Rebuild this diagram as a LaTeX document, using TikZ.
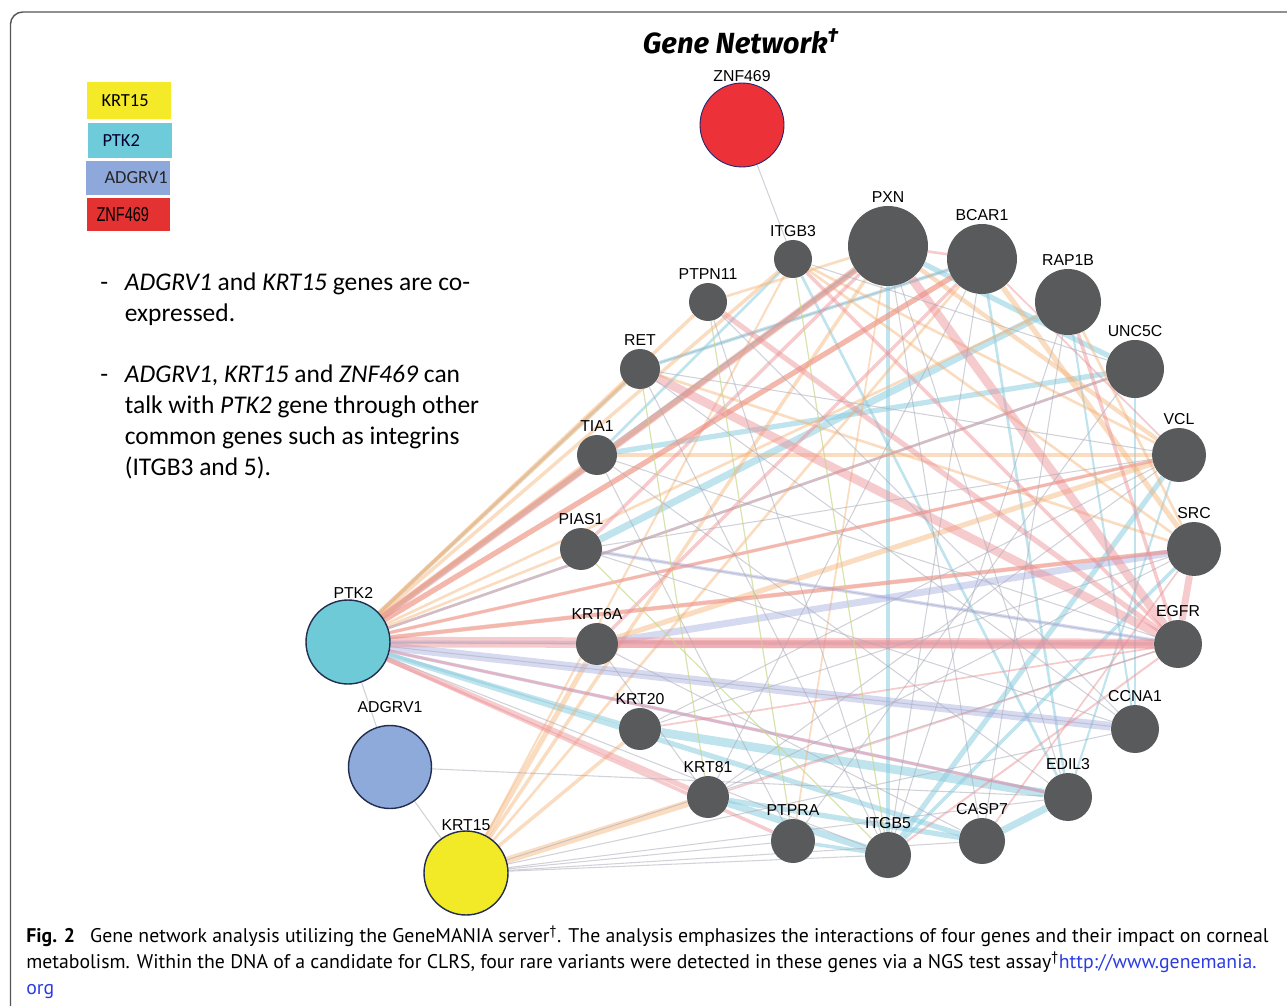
\documentclass[tikz,border=0pt]{standalone}
\usepackage{fontspec}
\setmainfont{Liberation Sans}
\newfontfamily\calfont{Carlito}
\newfontfamily\capfont{PT Sans}
\newfontfamily\titfont{Fira Sans}
\usepackage{graphicx}
\usepackage{xcolor}
\usepackage{tikz}
\usetikzlibrary{positioning, backgrounds}

\definecolor{genegray}{RGB}{88,90,91}
\definecolor{seedline}{RGB}{35,45,80}
\definecolor{ptkcyan}{RGB}{110,202,214}
\definecolor{adgblue}{RGB}{142,170,219}
\definecolor{krtyellow}{RGB}{242,234,38}
\definecolor{znfred}{RGB}{237,49,56}
\definecolor{legyellow}{RGB}{244,234,40}
\definecolor{legcyan}{RGB}{110,204,218}
\definecolor{legblue}{RGB}{143,168,219}
\definecolor{legred}{RGB}{228,50,50}
\definecolor{edgepink}{RGB}{236,140,145}
\definecolor{edgeblue}{RGB}{140,205,222}
\definecolor{edgeorange}{RGB}{244,178,118}
\definecolor{edgelav}{RGB}{165,172,225}
\definecolor{edgegray}{RGB}{170,172,185}
\definecolor{edgegreen}{RGB}{200,215,140}
\definecolor{framecol}{RGB}{85,85,85}
\definecolor{linkblue}{RGB}{45,60,225}

\begin{document}
\begin{tikzpicture}[
  x=0.02cm, y=-0.02cm,
  gene/.style={circle, fill=genegray, inner sep=0pt, minimum size=#1},
  seed/.style={circle, draw=seedline, line width=0.8pt, inner sep=0pt, minimum size=#1},
  lbl/.style={font=\fontsize{9}{10}\selectfont, inner sep=1.5pt},
  legbox/.style={minimum height=#1, text width=1.68cm, inner xsep=0pt, inner ysep=0pt, align=left, font=\calfont\fontsize{10.5}{11}\selectfont},
  bullet/.style={font=\calfont\fontsize{14.5}{17.6}\selectfont, inner sep=0pt},
  captext/.style={font=\capfont\fontsize{11.25}{13}\selectfont, inner sep=0pt},
  pinklink/.style={draw=edgepink, line width=#1, opacity=0.45},
  bluelink/.style={draw=edgeblue, line width=#1, opacity=0.55},
  orangelink/.style={draw=edgeorange, line width=#1, opacity=0.45},
  lavlink/.style={draw=edgelav, line width=#1, opacity=0.45},
  graylink/.style={draw=edgegray, line width=0.6pt, opacity=0.55},
  greenlink/.style={draw=edgegreen, line width=0.7pt, opacity=0.7}
]
  \useasboundingbox (0,0) rectangle (1287,1006);
  \draw[framecol, line width=0.8pt, rounded corners=7pt] (10.5,1030) -- (10.5,12) -- (1310,12);

  % title
  \node[font=\titfont\bfseries\itshape\fontsize{16.6}{18}\selectfont] (title) at (741,41) {Gene Network\textsuperscript{†}};

  % legend
  \node[legbox=0.74cm, fill=legyellow] (legkrt) at (129,101) {\hspace*{0.29cm}KRT15};
  \node[legbox=0.7cm, fill=legcyan, text=black!80!blue] (legptk) at (130,141) {\hspace*{0.29cm}PTK2};
  \node[legbox=0.68cm, fill=legblue, text=black!85] (legadg) at (128,178) {\hspace*{0.37cm}ADGRV1};
  \node[legbox=0.66cm, fill=legred] (legznf) at (128.5,214.5) {\hspace*{0.2cm}{\fontspec{Liberation Sans}\scalebox{0.72}[1]{\fontsize{11.5}{12}\selectfont ZNF469}}};

  % notes
  \node[bullet, anchor=base west] (note1) at (100,291) {\begin{tabular}[t]{@{}l@{\hspace{9.5pt}}l@{}}
    - & \textit{ADGRV1} and \textit{KRT15} genes are co-\\
      & expressed.
  \end{tabular}};
  \node[bullet, anchor=base west] (note2) at (100,383) {\begin{tabular}[t]{@{}l@{\hspace{9.5pt}}l@{}}
    - & \textit{ADGRV1}, \textit{KRT15} and \textit{ZNF469} can\\
      & talk with \textit{PTK2} gene through other\\
      & common genes such as integrins\\
      & (ITGB3 and 5).
  \end{tabular}};

  % query genes
  \node[seed=1.68cm, fill=znfred, draw=seedline!80!blue, line width=0.5pt] (znf) at (742,125) {};
  \node[seed=1.68cm, fill=ptkcyan] (ptk) at (348,642) {};
  \node[seed=1.66cm, fill=adgblue] (adgrv) at (390,767) {};
  \node[seed=1.68cm, fill=krtyellow] (krt15) at (466,873) {};
  \node[lbl, above=-1pt of znf] {ZNF469};
  \node[lbl, above=-1pt of ptk, xshift=3pt] {PTK2};
  \node[lbl, above=5pt of adgrv] {ADGRV1};
  \node[lbl, above=-2pt of krt15] {KRT15};

  % related genes
  \node[gene=0.76cm] (itgb3) at (793,259) {};
  \node[gene=1.6cm] (pxn) at (888,246) {};
  \node[gene=1.4cm] (bcar) at (982,259) {};
  \node[gene=1.32cm] (rap) at (1068,302) {};
  \node[gene=1.16cm] (unc) at (1135,369) {};
  \node[gene=1.08cm] (vcl) at (1179,455) {};
  \node[gene=1.08cm] (src) at (1194,549) {};
  \node[gene=0.96cm] (egfr) at (1178,644) {};
  \node[gene=0.96cm] (ccna) at (1135,729) {};
  \node[gene=0.96cm] (edil) at (1068,797) {};
  \node[gene=0.92cm] (casp) at (982,841) {};
  \node[gene=0.92cm] (itgb5) at (888,855) {};
  \node[gene=0.88cm] (ptpra) at (793,841) {};
  \node[gene=0.84cm] (krt81) at (708,797) {};
  \node[gene=0.84cm] (krt20) at (640,729) {};
  \node[gene=0.84cm] (krt6a) at (597,644) {};
  \node[gene=0.84cm] (pias) at (581,549) {};
  \node[gene=0.8cm] (tia) at (597,455) {};
  \node[gene=0.8cm] (ret) at (640,369) {};
  \node[gene=0.76cm] (ptpn) at (708,302) {};
  \node[lbl, above=0pt of itgb3] {ITGB3};
  \node[lbl, above=0pt of pxn] {PXN};
  \node[lbl, above=0pt of bcar] {BCAR1};
  \node[lbl, above=0pt of rap] {RAP1B};
  \node[lbl, above=0pt of unc] {UNC5C};
  \node[lbl, above=0pt of vcl] {VCL};
  \node[lbl, above=0pt of src] {SRC};
  \node[lbl, above=0pt of egfr] {EGFR};
  \node[lbl, above=0pt of ccna] {CCNA1};
  \node[lbl, above=0pt of edil] {EDIL3};
  \node[lbl, above=0pt of casp] {CASP7};
  \node[lbl, above=0pt of itgb5] {ITGB5};
  \node[lbl, above=0pt of ptpra] {PTPRA};
  \node[lbl, above=0pt of krt81] {KRT81};
  \node[lbl, above=0pt of krt20] {KRT20};
  \node[lbl, above=0pt of krt6a] {KRT6A};
  \node[lbl, above=0pt of pias] {PIAS1};
  \node[lbl, above=0pt of tia] {TIA1};
  \node[lbl, above=0pt of ret] {RET};
  \node[lbl, above=0pt of ptpn] {PTPN11};

  % interactions
  \begin{scope}[on background layer]
    \foreach \a/\b/\w in {krt20/edil/5pt, pias/rap/4pt, tia/unc/3pt, itgb5/vcl/3pt, itgb5/src/2pt, krt81/itgb5/4pt,
      krt81/casp/3pt, casp/edil/4pt, pxn/itgb5/2.5pt, ptk/casp/3pt, ptk/pxn/2.5pt, ptk/krt20/2pt, itgb3/edil/1.5pt,
      bcar/edil/1.5pt, unc/ccna/1.5pt, ret/bcar/2pt, ptpra/itgb5/2pt, ptk/ret/1.5pt, rap/ccna/1.2pt, pxn/unc/3pt,
      ptk/unc/1.5pt, tia/itgb3/1.5pt, edil/vcl/1.2pt}
      \draw[bluelink=\w] (\a) -- (\b);
    \foreach \a/\b/\w in {ptk/pxn/3pt, ptk/bcar/3pt, ptk/ret/2.5pt, ptk/ptpn/2pt, ptk/itgb3/2pt, ptk/tia/2pt, ptk/pias/1.5pt,
      krt15/pxn/2pt, krt15/krt6a/3pt, krt15/krt81/4pt, krt15/krt20/2pt, krt15/bcar/1.5pt, krt6a/vcl/3pt, ptk/src/2pt,
      pxn/vcl/2.5pt, bcar/src/3pt, ret/src/1.5pt, itgb3/src/1.5pt, tia/vcl/2pt, ptpn/pxn/1.5pt, rap/src/1.5pt,
      pxn/ptpra/1pt, krt15/itgb3/1.2pt, ptk/rap/1.5pt, ptk/vcl/1.5pt, itgb3/vcl/1.5pt}
      \draw[orangelink=\w] (\a) -- (\b);
    \foreach \a/\b/\w in {ptk/ccna/5pt, krt6a/src/4pt, ptk/edil/2pt, pias/egfr/2pt, ptk/egfr/2pt}
      \draw[lavlink=\w] (\a) -- (\b);
    \foreach \a/\b/\w in {ptk/egfr/6pt, krt6a/egfr/4pt, ret/egfr/5pt, pxn/ptk/4pt, pxn/egfr/5pt, src/egfr/4pt, ptk/src/2.5pt,
      ptk/vcl/2pt, ptpn/egfr/3pt, bcar/ptk/3pt, itgb3/egfr/2pt, pxn/pias/2pt, bcar/krt6a/2pt, ptk/unc/1.5pt, ptk/edil/1.5pt,
      rap/egfr/2pt, krt20/egfr/1pt, itgb5/egfr/1.2pt, casp/src/1pt, krt81/egfr/1pt, ptk/krt81/3pt, ptk/ptpra/2pt,
      bcar/vcl/1pt, pxn/bcar/1.5pt}
      \draw[pinklink=\w] (\a) -- (\b);
    \foreach \a/\b in {znf/itgb3, adgrv/krt15, adgrv/edil, adgrv/ptk, krt15/casp, krt15/edil, krt15/ccna, krt15/egfr,
      krt15/ptpra, krt15/itgb5, pxn/casp, bcar/itgb5, rap/casp, unc/ptpra, vcl/krt81, ret/itgb5, tia/ptpra, pias/egfr,
      ptpn/itgb5, krt6a/krt81, ptk/itgb5, ret/ccna, tia/edil, pias/ccna, krt6a/casp, krt20/vcl,
      krt81/src, itgb5/rap, edil/pxn, ccna/ptpn, egfr/tia, pias/vcl, vcl/ret, unc/itgb3, bcar/ret, pxn/tia,
      ptk/krt6a, ptk/ccna, krt20/src, krt81/bcar}
      \draw[graylink] (\a) -- (\b);
    \foreach \a/\b in {ptpn/ptpra, itgb3/itgb5, ret/krt81, pias/itgb5}
      \draw[greenlink] (\a) -- (\b);
  \end{scope}

  % caption
  \node[captext, anchor=base west] (cap1) at (26,942) {\textbf{Fig. 2}\hspace{0.5em} Gene network analysis utilizing the GeneMANIA server\textsuperscript{†}. The analysis emphasizes the interactions of four genes and their impact on corneal};
  \node[captext, anchor=base west] (cap2) at (26,968) {metabolism. Within the DNA of a candidate for CLRS, four rare variants were detected in these genes via a NGS test assay\textsuperscript{†}\textcolor{linkblue}{http://www.genemania.}};
  \node[captext, anchor=base west] (cap3) at (26,994) {\textcolor{linkblue}{org}};
\end{tikzpicture}
\end{document}
